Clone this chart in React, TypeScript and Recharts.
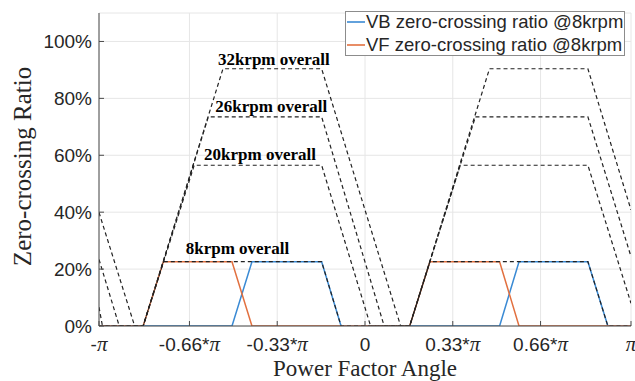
import React from 'react';
import { LineChart, Line, XAxis, YAxis, CartesianGrid, Legend, ReferenceDot } from 'recharts';

// x is the power factor angle in units of pi, y is the ratio in percent
const vbX = [-1, -0.5, -0.425, -0.163, -0.09, 0.506, 0.579, 0.838, 0.913, 1];
const vbY = [0, 0, 22.6, 22.6, 0, 0, 22.6, 22.6, 0, 0];

const vfX = [-1, -0.834, -0.758, -0.5, -0.425, 0.168, 0.244, 0.506, 0.579, 1];
const vfY = [0, 0, 22.6, 22.6, 0, 0, 22.6, 22.6, 0, 0];

const overall8kX = [-1, -0.834, -0.758, -0.163, -0.09, 0.168, 0.244, 0.838, 0.913, 1];
const overall8kY = [0, 0, 22.6, 22.6, 0, 0, 22.6, 22.6, 0, 0];

const overall20kX = [-1, -0.987, -0.834, -0.642, -0.163, 0.021, 0.168, 0.358, 0.838, 1];
const overall20kY = [6.6, 0, 0, 56.5, 56.5, 0, 0, 56.5, 56.5, 8];

const overall26kX = [-1, -0.924, -0.834, -0.589, -0.163, 0.072, 0.168, 0.415, 0.838, 1];
const overall26kY = [23.4, 0, 0, 73.5, 73.5, 0, 0, 73.5, 73.5, 24.4];

const overall32kX = [-1, -0.866, -0.834, -0.534, -0.163, 0.134, 0.168, 0.468, 0.838, 1];
const overall32kY = [39.9, 0, 0, 90.4, 90.4, 0, 0, 90.4, 90.4, 40.8];

const xTicks = [-1, -0.66, -0.33, 0, 0.33, 0.66, 1];
const xTickLabels = ['-π', '-0.66*π', '-0.33*π', '0', '0.33*π', '0.66*π', 'π'];
const yTicks = [0, 20, 40, 60, 80, 100];

const noteLabels = ['32krpm overall', '26krpm overall', '20krpm overall', '8krpm overall'];
const noteX = [-0.553, -0.563, -0.605, -0.674];
const noteY = [91.6, 75.1, 58.3, 25.2];

const toPoints = (xs: number[], ys: number[]) => xs.map((x, i) => ({ x, y: ys[i] }));

const SANS = '"Liberation Sans", Arial, sans-serif';
const SERIF = '"Liberation Serif", "Times New Roman", serif';
const TEXT = '#262626';
const BLUE = '#3a8ad4';
const ORANGE = '#e2703f';
const DASH = '#222';

const XTick = ({ x, y, payload }: any) => {
  const label = xTickLabels[xTicks.indexOf(payload.value)] ?? String(payload.value);
  const hasPi = label.endsWith('π');
  const prefix = hasPi ? label.slice(0, -1) : label;
  return (
    <text x={x} y={y + 25} textAnchor="middle" fill={TEXT} fontSize={19} fontFamily={SANS}>
      {prefix && <tspan>{prefix}</tspan>}
      {hasPi && (
        <tspan fontFamily={SERIF} fontStyle="italic" fontSize={21}>
          π
        </tspan>
      )}
    </text>
  );
};

const renderYLabel = ({ viewBox }: any) => {
  const cx = viewBox.x + 31;
  const cy = viewBox.y + viewBox.height / 2 - 3;
  return (
    <text
      x={cx}
      y={cy}
      transform={`rotate(-90 ${cx} ${cy})`}
      textAnchor="middle"
      fill={TEXT}
      fontSize={25}
      fontFamily={SERIF}
    >
      Zero-crossing Ratio
    </text>
  );
};

const renderXLabel = ({ viewBox }: any) => (
  <text
    x={viewBox.x + viewBox.width / 2}
    y={viewBox.y + 50}
    textAnchor="middle"
    fill={TEXT}
    fontSize={23}
    fontFamily={SERIF}
  >
    Power Factor Angle
  </text>
);

const renderNote = (text: string) => ({ viewBox }: any) => (
  <text x={viewBox.x} y={viewBox.y} fill="#000" fontSize={17} fontWeight="bold" fontFamily={SERIF}>
    {text}
  </text>
);

const renderLegend = ({ payload }: any) => {
  const items = (payload || []).filter((p: any) => p.type !== 'none');
  return (
    <div
      style={{
        width: 280,
        height: 45,
        boxSizing: 'border-box',
        border: '1px solid #8c8c8c',
        background: '#fff',
        overflow: 'hidden',
      }}
    >
      <div style={{ marginTop: -2 }}>
        {items.map((item: any) => (
          <div key={item.value} style={{ display: 'flex', alignItems: 'center', height: 23.5 }}>
            <svg width={18} height={4} style={{ marginLeft: 1, display: 'block' }}>
              <line x1={0} y1={2} x2={18} y2={2} stroke={item.color} strokeWidth={1.6} />
            </svg>
            <span style={{ marginLeft: 1, fontSize: 18.5, fontFamily: SANS, color: TEXT, whiteSpace: 'nowrap' }}>
              {item.value}
            </span>
          </div>
        ))}
      </div>
    </div>
  );
};

export default function App() {
  return (
    <div style={{ position: 'absolute', left: 0, top: 0, background: '#fff' }}>
      <LineChart width={635} height={381} margin={{ top: 13, right: 4, bottom: 0, left: 0 }}>
        <CartesianGrid stroke="#e6e6e6" />
        <XAxis
          type="number"
          dataKey="x"
          domain={[-1, 1]}
          ticks={xTicks}
          interval={0}
          height={55}
          stroke="#4a4a4a"
          tickSize={-5}
          tickMargin={5}
          tick={<XTick />}
          label={renderXLabel}
          allowDataOverflow
        />
        <YAxis
          type="number"
          domain={[0, 110]}
          ticks={yTicks}
          interval={0}
          width={99}
          stroke="#4a4a4a"
          tickSize={-5}
          tickMargin={12}
          tickFormatter={(v: number) => `${v}%`}
          tick={{ fontSize: 19, fill: TEXT, fontFamily: SANS }}
          label={renderYLabel}
          allowDataOverflow
        />
        <Legend
          layout="vertical"
          align="center"
          verticalAlign="middle"
          content={renderLegend}
          wrapperStyle={{ left: 345, top: 11, width: 280, height: 45 }}
        />
        <Line data={toPoints(vbX, vbY)} dataKey="y" name="VB zero-crossing ratio @8krpm" stroke={BLUE} strokeWidth={1.5} dot={false} isAnimationActive={false} />
        <Line data={toPoints(vfX, vfY)} dataKey="y" name="VF zero-crossing ratio @8krpm" stroke={ORANGE} strokeWidth={1.5} dot={false} isAnimationActive={false} />
        <Line data={toPoints(overall8kX, overall8kY)} dataKey="y" name="8krpm overall" legendType="none" stroke={DASH} strokeWidth={1.2} strokeDasharray="4 3" dot={false} isAnimationActive={false} />
        <Line data={toPoints(overall20kX, overall20kY)} dataKey="y" name="20krpm overall" legendType="none" stroke={DASH} strokeWidth={1.2} strokeDasharray="4 3" dot={false} isAnimationActive={false} />
        <Line data={toPoints(overall26kX, overall26kY)} dataKey="y" name="26krpm overall" legendType="none" stroke={DASH} strokeWidth={1.2} strokeDasharray="4 3" dot={false} isAnimationActive={false} />
        <Line data={toPoints(overall32kX, overall32kY)} dataKey="y" name="32krpm overall" legendType="none" stroke={DASH} strokeWidth={1.2} strokeDasharray="4 3" dot={false} isAnimationActive={false} />
        {noteLabels.map((text, i) => (
          <ReferenceDot key={text} x={noteX[i]} y={noteY[i]} r={0} fill="none" stroke="none" ifOverflow="visible" label={renderNote(text)} />
        ))}
      </LineChart>
    </div>
  );
}
